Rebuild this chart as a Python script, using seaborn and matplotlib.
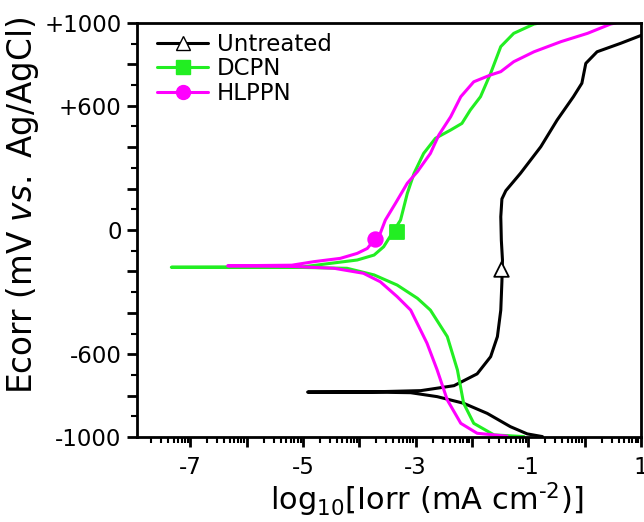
import numpy as np
import pandas as pd
import matplotlib
matplotlib.use("Agg")
import matplotlib.pyplot as plt
import seaborn as sns
from matplotlib.lines import Line2D
from matplotlib.ticker import FixedLocator, FuncFormatter, MultipleLocator


# 1. DATA

untreated_log_i = [-0.75, -1.02, -1.32, -1.73, -2.15, -2.62, -3.09, -3.8, -4.92,
                   -3.8, -2.91, -2.32, -1.91, -1.67, -1.55, -1.49, -1.47, -1.46,
                   -1.48, -1.49, -1.47, -1.40, -1.14, -0.78, -0.49, -0.20, -0.05,
                   0.02, 0.22, 0.64, 1.02]
untreated_e = [-998, -985, -950, -886, -837, -805, -786, -783, -783,
               -782, -776, -752, -695, -612, -515, -387, -250, -145,
               -50, 64, 150, 190, 274, 402, 531, 644, 709,
               805, 861, 902, 942]

dcpn_log_i = [-1.08, -1.61, -1.97, -2.15, -2.26, -2.44, -2.74, -2.97, -3.33, -3.74,
              -4.22, -5.0, -7.34, -5.0, -4.51, -4.04, -3.74, -3.57, -3.42, -3.27,
              -3.15, -3.03, -2.86, -2.65, -2.38, -2.18, -2.03, -1.85, -1.67, -1.49,
              -1.26, -0.90, -0.80]
dcpn_e = [-998, -990, -934, -837, -676, -515, -387, -330, -266, -217,
          -185, -181, -180, -178, -161, -145, -121, -81, -16, 48,
          177, 274, 370, 443, 483, 515, 580, 644, 757, 886,
          950, 995, 1000]

hlppn_log_i = [-1.38, -1.91, -2.20, -2.44, -2.62, -2.80, -3.09, -3.33, -3.63, -3.93,
               -4.45, -5.2, -6.34, -5.2, -4.81, -4.34, -4.04, -3.86, -3.74, -3.63,
               -3.54, -3.36, -3.15, -2.97, -2.74, -2.59, -2.38, -2.20, -1.97, -1.67,
               -1.49, -1.26, -0.90, -0.42, 0.05, 0.46, 0.55]
hlppn_e = [-996, -982, -934, -821, -676, -547, -387, -322, -250, -209,
           -185, -176, -173, -170, -153, -137, -113, -89, -48, -16,
           48, 129, 226, 282, 370, 459, 547, 644, 716, 749,
           765, 813, 861, 910, 950, 995, 1000]

# one marker per curve
marker_log_i = [-1.49, -3.34, -3.72]
marker_e = [-190, -11, -45]

series_names = ["Untreated", "DCPN", "HLPPN"]
colors = {"Untreated": "black", "DCPN": "#22EE22", "HLPPN": "#FF00FF"}
markers = {"Untreated": "^", "DCPN": "s", "HLPPN": "o"}


# 2. PLOT

sns.set_style("ticks")
plt.rcParams["font.family"] = ["DejaVu Sans"]
plt.rcParams["mathtext.fontset"] = "dejavusans"
plt.rcParams["text.color"] = "black"
plt.rcParams["axes.labelcolor"] = "black"
plt.rcParams["xtick.color"] = "black"
plt.rcParams["ytick.color"] = "black"
plt.rcParams["axes.edgecolor"] = "black"

fig = plt.figure(figsize=(6.44, 5.22), dpi=100)
ax = fig.add_axes([137 / 644, 1 - 437 / 522, 504 / 644, 414 / 522])

curves = [(untreated_log_i, untreated_e), (dcpn_log_i, dcpn_e), (hlppn_log_i, hlppn_e)]
for name, (xs, ys) in zip(series_names, curves):
    df = pd.DataFrame({"log_i": xs, "e": ys})
    sns.lineplot(data=df, x="log_i", y="e", sort=False, estimator=None,
                 color=colors[name], linewidth=2.2, ax=ax)

for i, name in enumerate(series_names):
    face = "white" if name == "Untreated" else colors[name]
    ax.scatter([marker_log_i[i]], [marker_e[i]], marker=markers[name], s=110,
               facecolor=face, edgecolor=colors[name], linewidth=1.3, zorder=5)

ax.set_xlim(-7.95, 1)
ax.set_ylim(-1000, 1000)

# x ticks: every decade, labels every other, log-style minor ticks
ax.xaxis.set_major_locator(MultipleLocator(1))
ax.xaxis.set_major_formatter(FuncFormatter(
    lambda v, p: f"{int(round(v))}" if int(round(v)) % 2 != 0 else ""))
minor_x = [d + np.log10(k) for d in range(-8, 1) for k in range(2, 10)]
ax.xaxis.set_minor_locator(FixedLocator(minor_x))

ytick_labels = {1000: "+1000", 600: "+600", 0: "0", -600: "-600", -1000: "-1000"}
ax.yaxis.set_major_locator(MultipleLocator(200))
ax.yaxis.set_major_formatter(FuncFormatter(
    lambda v, p: ytick_labels.get(int(round(v)), "")))
ax.yaxis.set_minor_locator(MultipleLocator(100))

ax.tick_params(which="major", direction="out", length=7, width=2, labelsize=16.5,
               top=False, right=False)
ax.tick_params(which="minor", direction="out", length=4, width=1.5,
               top=False, right=False)
ax.tick_params(axis="x", which="major", pad=7)
ax.tick_params(axis="y", which="major", pad=4)
for sp in ax.spines.values():
    sp.set_linewidth(2)
    sp.set_visible(True)

ax.set_xlabel(r"log$_{10}$[Iorr (mA cm$^{\text{-2}}$)]", fontsize=22)
ax.set_ylabel(r"Ecorr (mV $\it{vs.}$ Ag/AgCl)", fontsize=23.5)
ax.xaxis.set_label_coords(0.575, -0.105)
ax.yaxis.set_label_coords(-0.19, 0.56)

handles = []
for name in series_names:
    face = "white" if name == "Untreated" else colors[name]
    handles.append(Line2D([0], [0], color=colors[name], linewidth=2.2,
                          marker=markers[name], markersize=10,
                          markerfacecolor=face, markeredgecolor=colors[name]))
ax.legend(handles, series_names, loc="upper left", frameon=False, fontsize=16.5,
          handlelength=2.2, handletextpad=0.4, labelspacing=0.05,
          borderaxespad=0.05, bbox_to_anchor=(0.02, 1.0))

fig.savefig("out.png", dpi=100)
